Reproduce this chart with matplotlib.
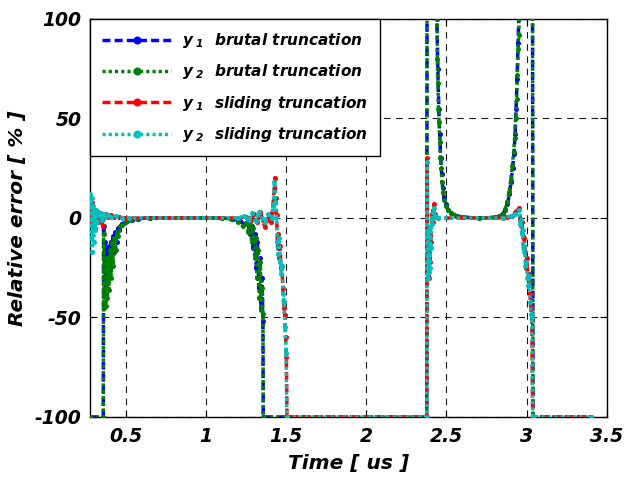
import matplotlib
matplotlib.use("Agg")
import matplotlib.pyplot as plt

plt.rcParams['font.family'] = ['DejaVu Sans']
plt.rcParams['font.weight'] = 'bold'
plt.rcParams['font.style'] = 'italic'
plt.rcParams['mathtext.default'] = 'regular'

# ---------------- data ----------------
t_y1_brutal = [0.278, 0.361, 0.363, 0.367, 0.372, 0.377, 0.383, 0.389, 0.395, 0.401, 0.407, 0.414,
               0.421, 0.428, 0.436, 0.444, 0.452, 0.462, 0.475, 0.49, 0.51, 0.54, 0.58, 0.65, 1.10,
               1.17, 1.21, 1.24, 1.26, 1.275, 1.285, 1.295, 1.305, 1.315, 1.322, 1.33, 1.337, 1.344,
               1.35, 1.356, 1.358, 2.377, 2.379, 2.436, 2.440, 2.446, 2.452, 2.458, 2.464, 2.470,
               2.477, 2.485, 2.495, 2.51, 2.53, 2.56, 2.60, 2.70, 2.80, 2.83, 2.85, 2.865, 2.88,
               2.892, 2.902, 2.912, 2.92, 2.928, 2.934, 2.94, 2.946, 2.952, 2.958, 3.036, 3.039, 3.40]
v_y1_brutal = [-100, -100, -4, -38, -12, -35, -18, -30, -14, -26, -12, -22,
               -9, -17, -7, -12, -5, -6, -3, -2.5, -1.5, -0.8, -0.3, 0, 0,
               -0.5, -1.5, -3, -2, -8, -4, -15, -8, -25, -12, -35, -20, -45,
               -30, -52, -100, -100, 130, 130, 100, 75, 55, 42, 30, 22,
               15, 10, 7, 4, 2.5, 1.2, 0.4, 0, 0.3, 1, 2, 4, 7,
               12, 18, 25, 32, 42, 55, 70, 88, 105, 130, 130, -100, -100]

t_y2_brutal = [0.278, 0.361, 0.363, 0.366, 0.371, 0.376, 0.381, 0.386, 0.391, 0.397, 0.403, 0.409,
               0.416, 0.423, 0.43, 0.438, 0.446, 0.455, 0.466, 0.48, 0.50, 0.53, 0.57, 0.65, 1.10,
               1.16, 1.20, 1.23, 1.25, 1.265, 1.275, 1.285, 1.295, 1.305, 1.313, 1.32, 1.327, 1.334,
               1.34, 1.346, 1.352, 1.356, 1.358, 2.377, 2.379, 2.440, 2.443, 2.447, 2.450, 2.454,
               2.458, 2.462, 2.467, 2.472, 2.478, 2.486, 2.497, 2.51, 2.53, 2.56, 2.60, 2.70, 2.80,
               2.83, 2.85, 2.865, 2.878, 2.89, 2.90, 2.91, 2.918, 2.925, 2.931, 2.937, 2.942, 2.946,
               2.950, 2.955, 2.96, 3.036, 3.039, 3.40]
v_y2_brutal = [-100, -100, -8, -45, -20, -44, -25, -40, -20, -36, -16, -30,
               -12, -24, -10, -16, -7, -9, -4, -3.5, -2, -1, -0.4, 0, 0,
               -0.5, -2, -4, -2.5, -7, -3, -12, -5, -20, -10, -30, -16, -40,
               -22, -46, -35, -48, -100, -100, 130, 130, 80, 68, 55, 48,
               38, 30, 25, 18, 13, 9, 6, 4, 2.5, 1.2, 0.4, 0, 0.3,
               1, 2, 4.5, 8, 13, 19, 26, 33, 40, 50, 60, 72, 85,
               92, 105, 130, 130, -100, -100]

t_y1_sliding = [0.278, 0.283, 0.288, 0.293, 0.298, 0.303, 0.308, 0.313, 0.32, 0.327, 0.335, 0.342,
                0.35, 0.36, 0.368, 0.378, 0.39, 0.41, 0.43, 0.46, 0.5, 1.2, 1.25, 1.28, 1.30, 1.32,
                1.34, 1.355, 1.368, 1.38, 1.395, 1.405, 1.415, 1.422, 1.43, 1.436, 1.441, 1.447,
                1.452, 1.458, 1.463, 1.468, 1.474, 1.48, 1.486, 1.492, 1.497, 1.502, 1.506, 2.377,
                2.379, 2.382, 2.385, 2.388, 2.391, 2.394, 2.397, 2.40, 2.404, 2.408, 2.413, 2.418,
                2.423, 2.428, 2.435, 2.45, 2.85, 2.88, 2.91, 2.93, 2.955, 2.96, 2.965, 2.97, 2.975,
                2.98, 2.985, 2.99, 2.996, 3.002, 3.008, 3.014, 3.02, 3.026, 3.032, 3.037, 3.40]
v_y1_sliding = [5, 10, -2, 8, -3, 4, -5, 2, -1, 3, -2, 2,
                0, -4, 1, 2, 0.5, 1.5, 0.5, 0.3, 0, 0, 0.5, -1, 2, -2,
                3, -1, -4.5, -1, 1, -2, 3, 10, 20, 10, 1.5, -15,
                -8, -20, -14, -25, -24, -35, -45, -49, -60, -70, -100, -100,
                30, -5, -25, -10, -30, -15, -22, -8, -12, 2, -2, 4,
                7, 2, 0.5, 0, 0, 0.5, 1, 3, 5, -1, -4, -2, -9,
                -15, -10, -17, -25, -20, -30, -28, -38, -45, -51, -100, -100]

t_y2_sliding = [0.278, 0.281, 0.285, 0.289, 0.293, 0.297, 0.301, 0.305, 0.31, 0.316, 0.323, 0.33,
                0.338, 0.347, 0.356, 0.365, 0.375, 0.39, 0.41, 0.44, 0.48, 0.52, 1.2, 1.24, 1.27,
                1.29, 1.31, 1.33, 1.35, 1.37, 1.39, 1.41, 1.42, 1.428, 1.434, 1.44, 1.446, 1.452,
                1.458, 1.464, 1.47, 1.476, 1.482, 1.488, 1.494, 1.50, 1.505, 2.377, 2.379, 2.381,
                2.384, 2.387, 2.39, 2.393, 2.396, 2.399, 2.403, 2.407, 2.412, 2.417, 2.422, 2.427,
                2.435, 2.45, 2.85, 2.9, 2.93, 2.955, 2.96, 2.964, 2.968, 2.974, 2.98, 2.986, 2.992,
                2.998, 3.004, 3.01, 3.016, 3.022, 3.028, 3.033, 3.037, 3.40]
v_y2_sliding = [8, 12, -10, 10, -17, 6, -12, 3, -6, 4, -2, 3,
                1, 2.5, -1, 2, 1, 1.5, 0.5, 1, 0.2, 0, 0, 1, -1,
                2.5, -1.5, 3, 0, -2, 2, 0, 6, 18, 8, 0, -12, -18,
                -10, -22, -28, -24, -38, -42, -55, -68, -100, -100, 28, -8,
                -30, -12, -27, -18, -25, -5, -15, 0, -3, 3, 5, 1,
                0.5, 0, 0, 1, 2, 4, -3, -1, -8, -6, -17, -14, -24,
                -22, -30, -34, -29, -42, -48, -50, -100, -100]

labels = [r"$y_{\ 1}$  brutal truncation", r"$y_{\ 2}$  brutal truncation",
          r"$y_{\ 1}$  sliding truncation", r"$y_{\ 2}$  sliding truncation"]
x_ticks = [0.5, 1, 1.5, 2, 2.5, 3, 3.5]
x_ticklabels = ["0.5", "1", "1.5", "2", "2.5", "3", "3.5"]
y_ticks = [-100, -50, 0, 50, 100]
y_ticklabels = ["-100", "-50", "0", "50", "100"]

# ---------------- figure ----------------
fig = plt.figure(figsize=(6.27, 4.82), dpi=100)
ax = fig.add_axes([0.1435, 0.1349, 0.8245, 0.8257])

lw = 2.5
ms = 3.6
ax.plot(t_y1_brutal, v_y1_brutal, color='#0000ff', linestyle=(0, (2.3, 1.2)), lw=lw,
        marker='o', ms=ms, mew=0, label=labels[0], zorder=3)
ax.plot(t_y2_brutal, v_y2_brutal, color='#008000', linestyle=(0, (0.9, 0.9)), lw=lw,
        marker='o', ms=ms, mew=0, label=labels[1], zorder=4)
ax.plot(t_y1_sliding, v_y1_sliding, color='#ff0000', linestyle=(0, (2.3, 1.2)), lw=lw,
        marker='o', ms=ms, mew=0, label=labels[2], zorder=5)
ax.plot(t_y2_sliding, v_y2_sliding, color='#00bfbf', linestyle=(0, (0.9, 0.9)), lw=lw,
        marker='o', ms=ms, mew=0, label=labels[3], zorder=6)

ax.set_xlim(0.278, 3.5)
ax.set_ylim(-100, 100)
ax.set_xticks(x_ticks)
ax.set_xticklabels(x_ticklabels)
ax.set_yticks(y_ticks)
ax.set_yticklabels(y_ticklabels)

ax.grid(True, color='0.1', linestyle=(0, (6, 5)), linewidth=0.8)
ax.set_axisbelow(True)

ax.tick_params(direction='in', top=True, right=True, length=5, width=0.8,
               labelsize=13.5)
ax.tick_params(axis='x', pad=7)
ax.tick_params(axis='y', pad=6)
for sp in ax.spines.values():
    sp.set_linewidth(1.0)
    sp.set_color('k')

ax.set_xlabel("Time [ us ]", fontsize=14.5, fontweight='bold', fontstyle='italic', labelpad=6)
ax.set_ylabel("Relative error [ % ]", fontsize=14.5, fontweight='bold', fontstyle='italic', labelpad=6)

leg = ax.legend(loc='upper left', borderaxespad=0, fancybox=False, edgecolor='k',
                framealpha=1, handlelength=4.5, handletextpad=0.7, borderpad=0.8,
                labelspacing=0.8, markerscale=1.6,
                prop={'family': 'DejaVu Sans', 'weight': 'bold', 'style': 'italic', 'size': 11})
leg.get_frame().set_linewidth(1.0)
leg.set_zorder(10)

fig.savefig("out.png", dpi=100)
